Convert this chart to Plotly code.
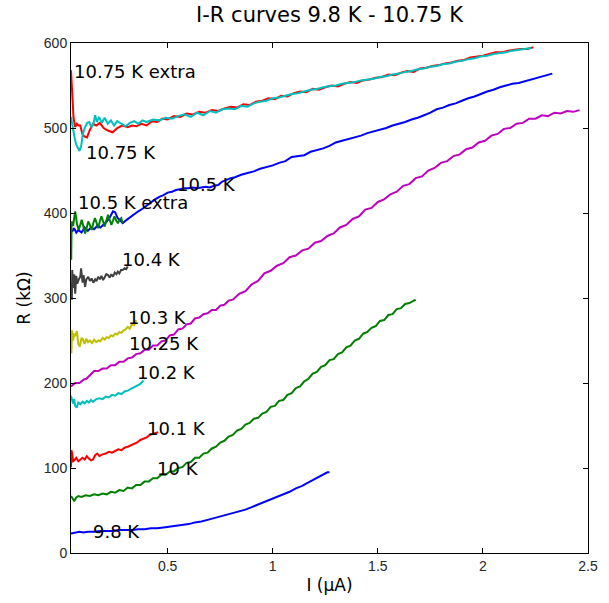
import plotly.graph_objects as go

# ---- measured I-R curves: current I (uA) and resistance R (kOhm) ----
i_98 = [0.04, 0.06, 0.08, 0.10, 0.12, 0.15, 0.18, 0.21, 0.24, 0.27, 0.30, 0.33, 0.36, 0.39, 0.42, 0.45,
        0.48, 0.51, 0.54, 0.57, 0.60, 0.63, 0.66, 0.69, 0.72, 0.75, 0.78, 0.81, 0.84, 0.87, 0.90, 0.93,
        0.96, 0.99, 1.02, 1.05, 1.08, 1.11, 1.14, 1.17, 1.20, 1.23, 1.26, 1.27]
r_98 = [23, 24, 25, 24, 25, 25, 26, 26, 26, 27, 27, 27, 28, 28, 29, 29,
        30, 31, 32, 33, 34, 36, 37, 39, 41, 43, 45, 47, 49, 51, 54, 57,
        60, 63, 66, 69, 72, 76, 79, 83, 87, 91, 95, 95]

i_100 = [0.040, 0.048, 0.056, 0.064, 0.075, 0.09, 0.11, 0.13, 0.15, 0.17, 0.19, 0.21, 0.23, 0.25, 0.27,
         0.29, 0.31, 0.33, 0.35, 0.37, 0.39, 0.41, 0.43, 0.45, 0.47, 0.49, 0.51, 0.53, 0.55, 0.57, 0.59,
         0.61, 0.63, 0.65, 0.67, 0.69, 0.71, 0.73, 0.75, 0.77, 0.79, 0.81, 0.83, 0.85, 0.87, 0.89, 0.91,
         0.93, 0.95, 0.97, 0.99, 1.01, 1.03, 1.05, 1.07, 1.09, 1.11, 1.13, 1.15, 1.17, 1.19, 1.21, 1.23,
         1.25, 1.27, 1.29, 1.31, 1.33, 1.35, 1.37, 1.39, 1.41, 1.43, 1.45, 1.47, 1.49, 1.51, 1.53, 1.55,
         1.57, 1.59, 1.61, 1.63, 1.65, 1.68]
r_100 = [67, 64, 61, 65, 67, 66, 68, 67, 69, 68, 70, 69, 72, 71, 74,
         73, 77, 76, 80, 80, 84, 84, 88, 88, 92, 92, 96, 96, 100, 101, 106,
         107, 112, 112, 117, 118, 123, 125, 130, 132, 137, 139, 144, 146, 151, 153, 158,
         159, 164, 166, 172, 173, 179, 180, 186, 188, 194, 196, 202, 205, 211, 213, 219,
         221, 227, 228, 234, 236, 242, 244, 250, 252, 258, 260, 265, 267, 273, 274, 280,
         281, 287, 288, 293, 294, 298]

i_101 = [0.040, 0.041, 0.045, 0.05, 0.056, 0.065, 0.075, 0.085, 0.095, 0.105, 0.115, 0.125, 0.135,
         0.145, 0.155, 0.165, 0.175, 0.19, 0.205, 0.22, 0.235, 0.25, 0.265, 0.28, 0.295, 0.31, 0.325,
         0.34, 0.355, 0.37, 0.385, 0.40, 0.415, 0.43, 0.445, 0.455]
r_101 = [101, 121, 118, 108, 109, 112, 108, 110, 112, 110, 114, 111, 109,
         110, 115, 117, 114, 116, 117, 119, 118, 120, 122, 121, 124, 125, 127,
         129, 130, 133, 135, 136, 139, 140, 141, 142]

i_102 = [0.040, 0.045, 0.05, 0.055, 0.06, 0.067, 0.075, 0.085, 0.095, 0.105, 0.115, 0.125, 0.135,
         0.145, 0.16, 0.175, 0.19, 0.205, 0.22, 0.235, 0.25, 0.265, 0.28, 0.295, 0.31, 0.325, 0.34,
         0.355, 0.37, 0.385]
r_102 = [185, 178, 176, 181, 173, 171, 177, 175, 178, 176, 179, 177, 180,
         178, 181, 182, 181, 184, 183, 186, 185, 188, 187, 190, 191, 193, 195,
         196, 199, 203]

i_1025 = [0.040, 0.06, 0.08, 0.10, 0.113, 0.13, 0.15, 0.17, 0.19, 0.21, 0.23, 0.25, 0.27, 0.29, 0.31,
          0.33, 0.35, 0.37, 0.39, 0.41, 0.43, 0.45, 0.47, 0.49, 0.51, 0.53, 0.55, 0.57, 0.59, 0.61,
          0.63, 0.65, 0.67, 0.69, 0.71, 0.73, 0.75, 0.77, 0.79, 0.81, 0.84, 0.87, 0.90, 0.93, 0.96,
          0.99, 1.02, 1.05, 1.08, 1.11, 1.14, 1.17, 1.20, 1.23, 1.26, 1.29, 1.32, 1.35, 1.38, 1.41,
          1.44, 1.47, 1.50, 1.53, 1.56, 1.59, 1.62, 1.65, 1.68, 1.71, 1.74, 1.77, 1.80, 1.83, 1.86,
          1.89, 1.92, 1.95, 1.98, 2.01, 2.04, 2.07, 2.10, 2.13, 2.16, 2.19, 2.22, 2.25, 2.28, 2.31,
          2.34, 2.37, 2.40, 2.43, 2.46]
r_1025 = [196, 200, 200, 204, 205, 209, 214, 214, 217, 217, 221, 221, 225, 225, 229,
          230, 234, 235, 239, 239, 244, 244, 249, 250, 256, 257, 263, 264, 269, 270,
          276, 277, 281, 282, 286, 286, 291, 292, 297, 298, 305, 308, 316, 320, 329,
          332, 338, 341, 348, 350, 356, 358, 365, 367, 373, 376, 383, 386, 393, 396,
          404, 406, 413, 416, 422, 425, 432, 434, 441, 443, 450, 453, 459, 461, 467,
          469, 475, 477, 483, 485, 491, 493, 499, 500, 505, 506, 511, 511, 515, 514,
          518, 517, 520, 519, 521]

i_103 = [0.040, 0.042, 0.045, 0.05, 0.055, 0.06, 0.068, 0.075, 0.082, 0.09, 0.097, 0.105, 0.113,
         0.121, 0.13, 0.14, 0.15, 0.16, 0.17, 0.18, 0.19, 0.20, 0.21, 0.22, 0.23, 0.24, 0.25, 0.26,
         0.27, 0.28, 0.29, 0.30, 0.31, 0.32, 0.33, 0.34, 0.35]
r_103 = [256, 235, 262, 250, 258, 255, 261, 246, 243, 253, 251, 246, 252,
         248, 250, 247, 251, 248, 250, 249, 253, 251, 254, 253, 256, 255, 258, 257,
         260, 259, 262, 263, 266, 264, 269, 268, 274]

i_104 = [0.042, 0.044, 0.046, 0.05, 0.055, 0.06, 0.065, 0.07, 0.077, 0.084, 0.088, 0.095, 0.100,
         0.107, 0.113, 0.122, 0.13, 0.138, 0.146, 0.155, 0.162, 0.169, 0.177, 0.185, 0.193, 0.2,
         0.208, 0.216, 0.224, 0.232, 0.24, 0.248, 0.256, 0.263, 0.27, 0.278, 0.286, 0.295, 0.303, 0.31]
r_104 = [318, 298, 333, 312, 328, 305, 326, 317, 322, 325, 335, 318, 327,
         313, 322, 325, 320, 323, 318, 322, 320, 325, 322, 326, 321, 325,
         328, 327, 324, 328, 325, 330, 328, 331, 329, 333, 333, 335, 334, 337]

i_105 = [0.045, 0.055, 0.065, 0.075, 0.090, 0.105, 0.120, 0.135, 0.150, 0.165, 0.180, 0.195, 0.210,
         0.225, 0.240, 0.250, 0.262, 0.275, 0.286, 0.30, 0.32, 0.34, 0.36, 0.38, 0.40, 0.42, 0.44,
         0.46, 0.48, 0.50, 0.52, 0.54, 0.56, 0.58, 0.60, 0.62, 0.64, 0.66, 0.68, 0.70, 0.72, 0.74,
         0.76, 0.78, 0.80, 0.82, 0.85, 0.88, 0.91, 0.94, 0.97, 1.00, 1.03, 1.06, 1.09, 1.12, 1.15,
         1.18, 1.21, 1.24, 1.27, 1.30, 1.33, 1.36, 1.39, 1.42, 1.45, 1.48, 1.51, 1.54, 1.57, 1.60,
         1.63, 1.66, 1.69, 1.72, 1.75, 1.78, 1.81, 1.84, 1.87, 1.90, 1.93, 1.96, 1.99, 2.02, 2.05,
         2.08, 2.11, 2.14, 2.17, 2.20, 2.23, 2.26, 2.29, 2.33]
r_105 = [378, 382, 377, 380, 377, 383, 379, 383, 381, 385, 383, 386, 390,
         395, 402, 401, 394, 391, 388, 391, 395, 398, 402, 405, 409, 412, 416,
         419, 421, 424, 425, 427, 428, 429, 429, 430, 429, 430, 431, 430, 432, 433,
         437, 439, 441, 442, 445, 447, 449, 452, 454, 456, 459, 461, 466, 467, 468,
         472, 474, 476, 479, 483, 485, 487, 489, 491, 494, 496, 498, 500, 503, 505,
         507, 510, 512, 515, 518, 522, 524, 527, 529, 532, 535, 537, 540, 543, 545,
         548, 550, 552, 553, 555, 557, 559, 561, 564]

i_105x = [0.041, 0.042, 0.043, 0.050, 0.060, 0.068, 0.076, 0.084, 0.091, 0.099, 0.107, 0.115, 0.122,
          0.130, 0.138, 0.146, 0.154, 0.161, 0.169, 0.177, 0.185, 0.193, 0.200, 0.208, 0.216, 0.224,
          0.232, 0.240, 0.247, 0.255, 0.263, 0.271, 0.279, 0.286]
r_105x = [345, 372, 390, 385, 402, 388, 380, 386, 392, 384, 376, 383, 390,
          386, 380, 388, 394, 389, 382, 390, 396, 390, 384, 391, 398, 392, 386, 391,
          396, 391, 388, 392, 394, 388]

i_1075x = [0.040, 0.045, 0.052, 0.060, 0.068, 0.076, 0.084, 0.095, 0.105, 0.116, 0.130, 0.145, 0.160,
           0.177, 0.195, 0.215, 0.238, 0.260, 0.285, 0.310, 0.330, 0.351, 0.375, 0.400, 0.425, 0.450,
           0.475, 0.50, 0.53, 0.56, 0.59, 0.62, 0.65, 0.68, 0.71, 0.74, 0.77, 0.80, 0.83, 0.86, 0.89,
           0.92, 0.95, 0.98, 1.01, 1.04, 1.07, 1.10, 1.13, 1.16, 1.19, 1.22, 1.25, 1.28, 1.31, 1.34,
           1.37, 1.40, 1.43, 1.46, 1.49, 1.52, 1.55, 1.58, 1.61, 1.64, 1.67, 1.70, 1.73, 1.76, 1.79,
           1.82, 1.85, 1.88, 1.91, 1.94, 1.97, 2.00, 2.03, 2.06, 2.09, 2.12, 2.15, 2.18, 2.21, 2.24]
r_1075x = [568, 540, 512, 501, 505, 503, 503, 492, 490, 489, 498, 505, 503,
           506, 500, 497, 495, 500, 503, 501, 503, 502, 505, 503, 508, 507,
           511, 510, 514, 513, 517, 516, 519, 518, 521, 520, 523, 525, 524, 528, 527,
           531, 532, 535, 534, 538, 537, 541, 543, 542, 546, 545, 548, 550, 549, 552,
           554, 553, 556, 557, 559, 560, 563, 562, 565, 567, 566, 570, 571, 573, 574,
           576, 577, 579, 580, 583, 584, 585, 587, 589, 589, 591, 592, 593, 593, 595]

i_1075 = [0.040, 0.048, 0.056, 0.064, 0.072, 0.080, 0.088, 0.097, 0.107, 0.117, 0.127, 0.137, 0.147,
          0.155, 0.163, 0.173, 0.187, 0.200, 0.215, 0.230, 0.245, 0.260, 0.280, 0.300, 0.320, 0.340,
          0.360, 0.38, 0.40, 0.43, 0.46, 0.49, 0.52, 0.55, 0.58, 0.61, 0.64, 0.67, 0.70, 0.73, 0.76,
          0.79, 0.82, 0.85, 0.88, 0.91, 0.94, 0.97, 1.00, 1.03, 1.06, 1.09, 1.12, 1.15, 1.18, 1.21,
          1.24, 1.27, 1.30, 1.33, 1.36, 1.39, 1.42, 1.45, 1.48, 1.51, 1.54, 1.57, 1.60, 1.63, 1.66,
          1.69, 1.72, 1.75, 1.78, 1.81, 1.84, 1.87, 1.90, 1.93, 1.96, 1.99, 2.02, 2.05, 2.08, 2.11,
          2.14, 2.17, 2.20, 2.23]
r_1075 = [513, 500, 490, 481, 476, 473, 478, 494, 501, 506, 507, 501, 505,
          515, 507, 513, 506, 512, 505, 509, 503, 508, 505, 502, 506, 508,
          505, 509, 507, 510, 509, 512, 511, 514, 516, 513, 518, 515, 520, 518, 522,
          523, 522, 526, 525, 529, 531, 532, 535, 536, 538, 540, 541, 543, 545, 546,
          548, 549, 550, 552, 553, 554, 556, 557, 558, 560, 561, 563, 564, 566, 567,
          569, 570, 572, 573, 575, 576, 578, 579, 581, 582, 584, 585, 587, 588, 589,
          591, 592, 593, 594]

# curve labels and where they are written (I, R)
label_text = ["9.8 K", "10 K", "10.1 K", "10.2 K", "10.25 K", "10.3 K", "10.4 K",
              "10.5 K", "10.5 K extra", "10.75 K extra", "10.75 K"]
label_i = [0.137, 0.438, 0.393, 0.344, 0.308, 0.300, 0.272, 0.536, 0.062, 0.045, 0.100]
label_r = [25, 100, 147, 212, 247, 277, 345, 434, 412, 566, 471]

x_ticks = [0.5, 1, 1.5, 2, 2.5]
y_ticks = [0, 100, 200, 300, 400, 500, 600]

series = [
    (i_98, r_98, "#0000ff"),
    (i_100, r_100, "#008000"),
    (i_101, r_101, "#ff0000"),
    (i_102, r_102, "#00bfbf"),
    (i_1025, r_1025, "#bf00bf"),
    (i_103, r_103, "#bfbf00"),
    (i_104, r_104, "#404040"),
    (i_105, r_105, "#0000ff"),
    (i_105x, r_105x, "#008000"),
    (i_1075x, r_1075x, "#ff0000"),
    (i_1075, r_1075, "#00bfbf"),
]

fig = go.Figure()
for xs, ys, col in series:
    fig.add_trace(go.Scatter(x=xs, y=ys, mode="lines",
                             line=dict(color=col, width=2), showlegend=False,
                             hoverinfo="skip"))

for t, xi, yi in zip(label_text, label_i, label_r):
    fig.add_annotation(x=xi, y=yi, text=t, showarrow=False, xanchor="left", yanchor="middle",
                       font=dict(family="DejaVu Sans", size=18, color="black"))

axis_common = dict(showline=True, linecolor="black", linewidth=1, mirror="ticks",
                   ticks="inside", ticklen=5, tickcolor="black", showgrid=False, zeroline=False,
                   tickfont=dict(family="Liberation Sans", size=14, color="#262626"))

fig.update_xaxes(range=[0.04, 2.5], tickvals=x_ticks, ticktext=[str(v) for v in x_ticks],
                 title=dict(text="I (μA)", font=dict(family="DejaVu Sans", size=17, color="black"),
                            standoff=6),
                 **axis_common)
fig.update_yaxes(range=[0, 600], tickvals=y_ticks,
                 title=dict(text="R (kΩ)", font=dict(family="DejaVu Sans", size=17, color="black"),
                            standoff=8),
                 **axis_common)

fig.update_layout(
    width=609, height=603,
    margin=dict(l=71, r=11, t=43, b=50),
    paper_bgcolor="white", plot_bgcolor="white",
    title=dict(text="I-R curves 9.8 K - 10.75 K", x=0.5, xref="paper", y=1 - 15 / 603,
               yref="container", yanchor="middle", xanchor="center",
               font=dict(family="DejaVu Sans", size=21, color="black")),
)

fig.write_html("out.html")
